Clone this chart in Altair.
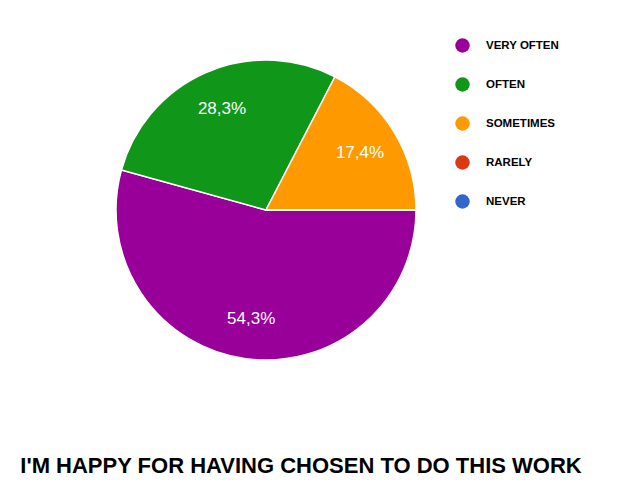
import altair as alt
import pandas as pd

categories = ["VERY OFTEN", "OFTEN", "SOMETIMES", "RARELY", "NEVER"]
values = [54.3, 28.3, 17.4, 0.0, 0.0]
labels = ["54,3%", "28,3%", "17,4%", "", ""]
colors = ["#990099", "#109618", "#ff9900", "#dc3912", "#3366cc"]
title_text = "I'M HAPPY FOR HAVING CHOSEN TO DO THIS WORK"

df = pd.DataFrame({
    "cat": categories,
    "value": values,
    "label": labels,
    "order": list(range(len(categories))),
})

cx, cy = 258, 202
R = 150

theta = alt.Theta("value:Q", stack=True,
                  scale=alt.Scale(range=[1.5707963, 1.5707963 + 6.2831853]))
color = alt.Color("cat:N",
                  scale=alt.Scale(domain=categories, range=colors),
                  sort=categories,
                  legend=alt.Legend(
                      title=None, orient="none", legendX=447, legendY=30,
                      symbolType="circle", symbolSize=210, symbolStrokeWidth=0,
                      labelFontSize=11.5, labelFont="Liberation Sans",
                      labelColor="#000000", labelFontWeight="bold",
                      rowPadding=24, labelOffset=16))

base = alt.Chart(df).encode(
    theta=theta,
    order=alt.Order("order:Q"),
)

arcs = base.mark_arc(outerRadius=R, stroke="white", strokeWidth=1.5).encode(
    color=color,
    x=alt.value(cx), y=alt.value(cy),
)

texts = base.mark_text(radius=110, fontSize=17, font="Liberation Sans",
                       color="white").encode(
    text="label:N",
    x=alt.value(cx), y=alt.value(cy),
)

title = alt.Chart(pd.DataFrame({"t": [title_text]})).mark_text(
    fontSize=22, fontWeight="bold", font="Liberation Sans", color="black"
).encode(text="t:N", x=alt.value(293), y=alt.value(458))

chart = alt.layer(arcs, texts, title).properties(
    width=617, height=478, padding=0,
    autosize=alt.AutoSizeParams(type="none"),
).configure_view(stroke=None)

chart.save("out.html", embed_options={"renderer": "svg", "actions": False})
